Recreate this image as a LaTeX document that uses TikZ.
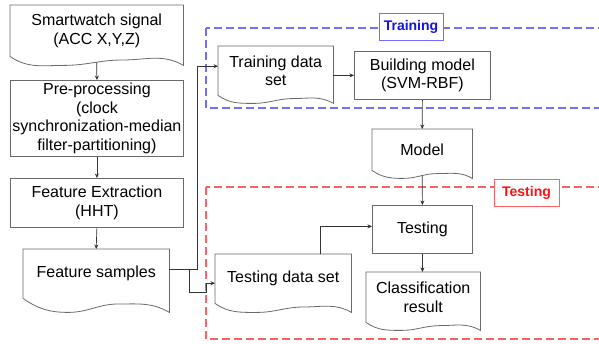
\documentclass[tikz,border=0pt]{standalone}
\usepackage{fontspec}
\setmainfont{Liberation Sans}
\usetikzlibrary{arrows.meta,calc}

\definecolor{edge}{HTML}{6A6A6A}
\definecolor{wire}{HTML}{333333}
\definecolor{trainframe}{HTML}{6E6EFF}
\definecolor{traintext}{HTML}{1414E0}
\definecolor{testframe}{HTML}{FF6262}
\definecolor{testtext}{HTML}{FF1010}

% document shape: straight top and sides, wavy bottom hanging #2 pt below the node
\newcommand{\docwave}[2]{%
  \draw[boxline] (#1.south west) -- (#1.north west) -- (#1.north east)
    -- ($(#1.south east)+(0,#2)$)
    to[out=150,in=0] ($(#1.south west)!0.65!(#1.south east)+(0,{0.4*#2})$)
    to[out=180,in=0] ($(#1.south west)!0.31!(#1.south east)+(0,#2)$)
    to[out=180,in=-35] (#1.south west) -- cycle;
}

\tikzset{
  boxline/.style={draw=edge, line width=0.8pt},
  txt/.style={inner sep=0pt, align=center, anchor=north west,
              font=\fontsize{16}{18.5}\selectfont},
  procbox/.style={txt, boxline},
  docbox/.style={txt},
  arr/.style={draw=wire, line width=0.7pt, -{Stealth[length=4.5pt,width=4pt]}},
  frame/.style={line width=1.3pt, dash pattern=on 8pt off 4pt},
  tag/.style={fill=white, line width=0.8pt, inner sep=0pt,
              font=\bfseries\fontsize{14}{16}\selectfont}
}

\begin{document}
\begin{tikzpicture}[x=1pt,y=-1pt]
\clip (0,0) rectangle (599,344);

% group frames
\draw[frame, trainframe] (206,28) rectangle (620,108);
\draw[frame, testframe] (206,187) rectangle (620,339);
\node[tag, draw=trainframe, text=traintext, minimum width=64pt, minimum height=27pt]
  (trainlab) at (411,26.5) {Training};
\node[tag, draw=testframe, text=testtext, minimum width=65pt, minimum height=27pt]
  (testlab) at (526.5,192.5) {Testing};

% left column
\node[docbox, minimum width=173pt, minimum height=51pt] (sw) at (10,5)
  {Smartwatch signal\\(ACC X,Y,Z)};
\docwave{sw}{9}
\node[procbox, minimum width=173pt, minimum height=76pt] (pp) at (10,80)
  {Pre-processing\\(clock\\synchronization-median\\filter-partitioning)};
\node[procbox, minimum width=173pt, minimum height=49pt] (fe) at (10,178)
  {Feature Extraction\\(HHT)};
\node[docbox, minimum width=146pt, minimum height=49pt] (fs) at (23,249)
  {Feature samples};
\docwave{fs}{14}

% training part
\node[docbox, minimum width=115pt, minimum height=49pt] (td) at (218,46)
  {Training data\\set};
\docwave{td}{8}
\node[procbox, minimum width=136pt, minimum height=48pt] (bm) at (354,51)
  {Building model\\(SVM-RBF)};
\node[docbox, minimum width=100pt, minimum height=41pt] (mo) at (372,129)
  {Model};
\docwave{mo}{8}

% testing part
\node[procbox, minimum width=100pt, minimum height=48pt] (te) at (372,205)
  {Testing};
\node[docbox, minimum width=136pt, minimum height=49pt] (ts) at (215,254)
  {Testing data set};
\docwave{ts}{9}
\node[docbox, minimum width=114pt, minimum height=50pt] (cr) at (366,272)
  {Classification\\result};
\docwave{cr}{8}

% connectors
\draw[arr] ([yshift=-6pt]sw.south) -- (pp.north);
\draw[arr] (pp.south) -- (fe.north);
\draw[arr] (fe.south) -- (fs.north);
\draw[arr] ([yshift=4.5pt]fs.east) -- ++(28,0) |- ([yshift=4.5pt]td.west);
\draw[arr] ([yshift=4.5pt]fs.east) -- ++(20,0) -- ++(0,23) -- ++(17,0)
  |- ([yshift=-4.5pt]ts.west);
\draw[arr] (td.east |- bm.west) -- (bm.west);
\draw[arr] (bm.south) -- (mo.north);
\draw[arr] ([yshift=-5pt]mo.south) -- (te.north);
\draw[arr] ([xshift=37pt]ts.north) |- ([yshift=3pt]te.west);
\draw[arr] (te.south) -- (te.south |- cr.north);
\end{tikzpicture}
\end{document}
